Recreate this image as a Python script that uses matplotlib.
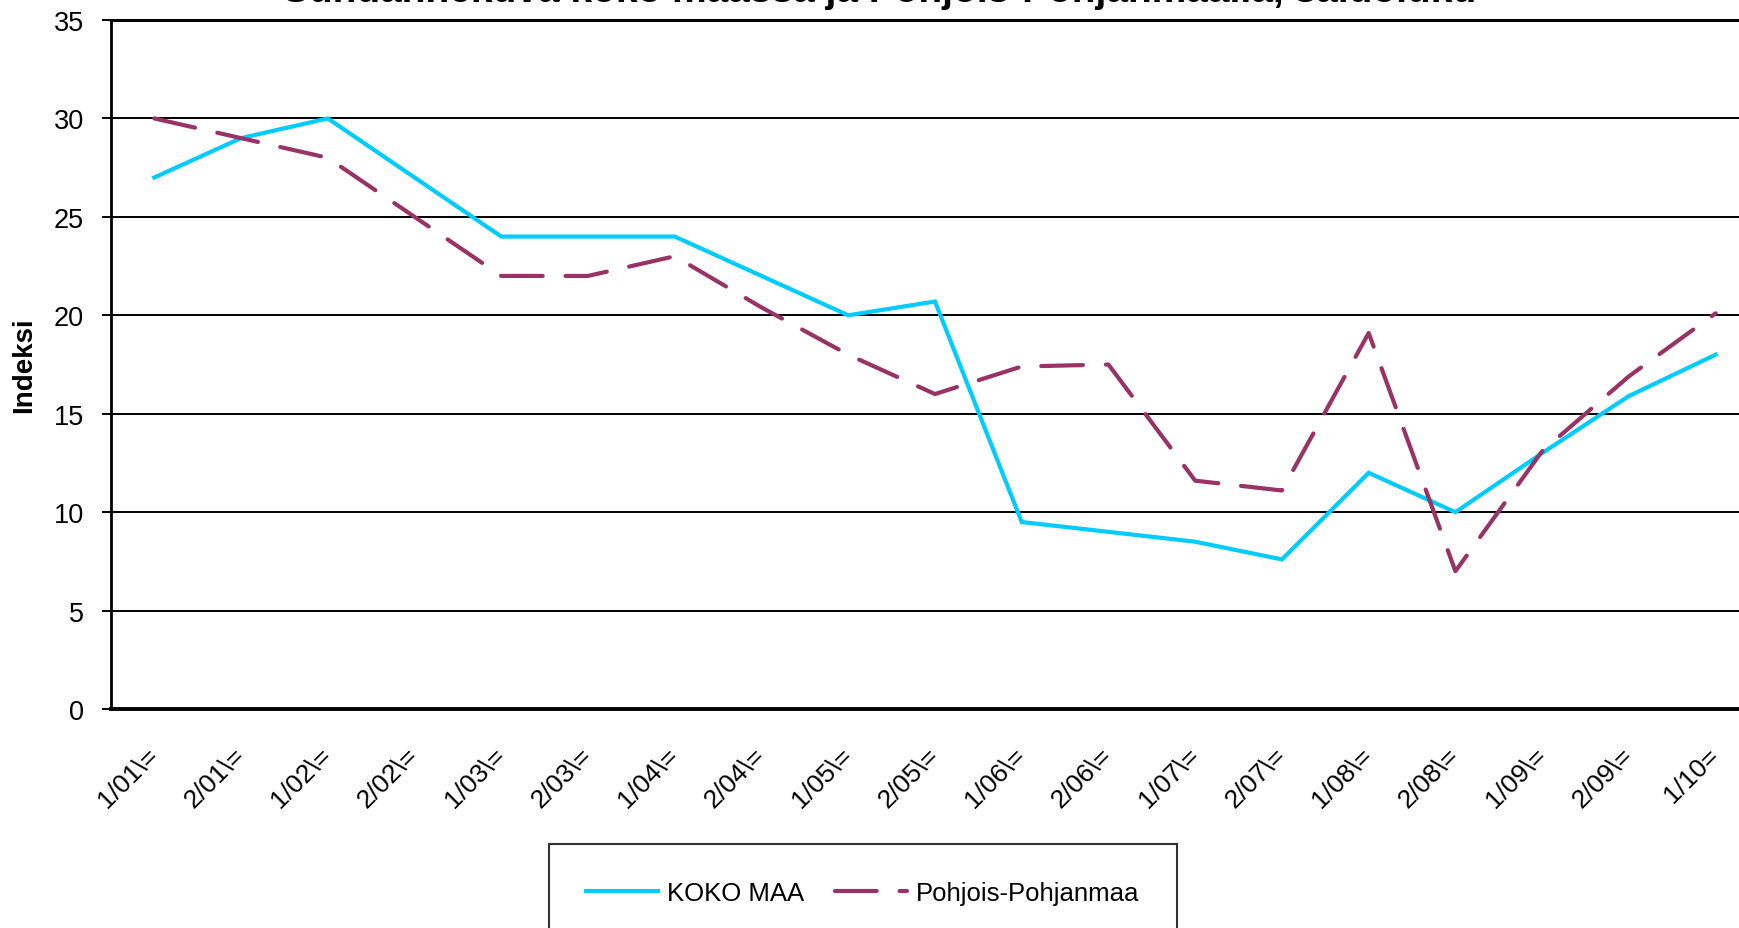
import matplotlib.pyplot as plt

plt.rcParams['font.family'] = ['Liberation Sans', 'DejaVu Sans']

# Half-year periods
periods = ['1/01\\=', '2/01\\=', '1/02\\=', '2/02\\=', '1/03\\=', '2/03\\=',
           '1/04\\=', '2/04\\=', '1/05\\=', '2/05\\=', '1/06\\=', '2/06\\=',
           '1/07\\=', '2/07\\=', '1/08\\=', '2/08\\=', '1/09\\=', '2/09\\=',
           '1/10=']

koko_maa = [27, 29, 30, 27, 24, 24, 24, 22, 20, 20.7, 9.5, 9.0, 8.5, 7.6,
            12, 10, 13, 15.9, 18]
pohjois_pohjanmaa = [30, 29, 28, 25, 22, 22, 23, 20.4, 18, 16, 17.4, 17.5,
                     11.6, 11.1, 19.1, 7, 13.1, 16.9, 20.1]

# title is mostly cut off at the top edge in the original image
title = 'Suhdannekuva koko maassa ja Pohjois-Pohjanmaalla, saldoluku'

fig = plt.figure(figsize=(17.39, 9.29), dpi=100)
ax = fig.add_axes([0.0638, 0.2357, 0.9477, 0.7417])

x = range(len(periods))
ax.plot(x, koko_maa, color='#00CCFF', lw=3.0, label='KOKO MAA',
        solid_joinstyle='miter')
ax.plot(x, pohjois_pohjanmaa, color='#993366', lw=3.0, ls=(0, (10, 5.5)),
        dash_capstyle='round', label='Pohjois-Pohjanmaa')

ax.set_xlim(-0.5, len(periods) - 0.5)
ax.set_ylim(0, 35)
ax.set_yticks(range(0, 36, 5))
ax.yaxis.grid(True, color='black', lw=1.4)
ax.set_axisbelow(True)

ax.set_xticks(list(x))
ax.set_xticklabels(periods, rotation=45, ha='right', va='center',
                   rotation_mode='anchor', fontsize=19)
ax.tick_params(axis='x', length=0, pad=30)
ax.tick_params(axis='y', length=6.5, width=1.4, pad=13, labelsize=19.5)

ax.spines['right'].set_visible(False)
ax.spines['top'].set_linewidth(2.2)
ax.spines['bottom'].set_linewidth(2.8)
ax.spines['left'].set_linewidth(2.0)

ax.set_ylabel('Indeksi', fontsize=20, fontweight='bold', labelpad=12)

fig.text(0.506, 1 - 1.5 / 929, title, ha='center', va='baseline',
         fontsize=28, fontweight='bold')

leg = fig.legend(loc='upper left', bbox_to_anchor=(549 / 1739, 1 - 845 / 929),
                 borderaxespad=0, ncol=2, fontsize=18.5, frameon=True,
                 fancybox=False, edgecolor='black', borderpad=1.45,
                 handlelength=2.8, handletextpad=0.35, columnspacing=1.2)
leg.get_frame().set_linewidth(1.5)

fig.savefig('out.png', dpi=100)
